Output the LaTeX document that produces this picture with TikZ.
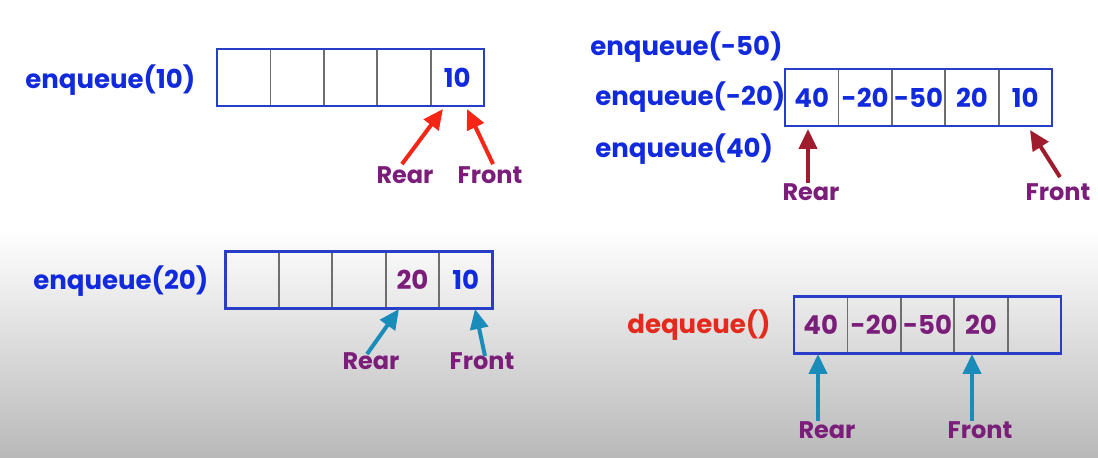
\documentclass[tikz,border=0pt]{standalone}
\usepackage{fontspec}
\setmainfont{Poppins}
\usepackage{xcolor}
\usepackage{tikz}
\usetikzlibrary{positioning,arrows.meta}

\definecolor{qblue}{RGB}{18,42,222}
\definecolor{boxblue}{RGB}{40,62,200}
\definecolor{divgray}{RGB}{110,110,110}
\definecolor{qpurple}{RGB}{122,30,122}
\definecolor{qred}{RGB}{228,42,28}
\definecolor{arrred}{RGB}{245,38,22}
\definecolor{arrmaroon}{RGB}{158,28,45}
\definecolor{arrteal}{RGB}{26,140,186}

\begin{document}
\begin{tikzpicture}[x=0.5pt, y=-0.5pt,
    qcell/.style={draw=divgray, line width=0.9pt, minimum width=26.7pt,
        minimum height=28.5pt, inner sep=0pt, outer sep=0pt,
        font=\fontsize{13}{15}\selectfont\bfseries},
    qlabel/.style={anchor=west, inner sep=0pt, text=qblue,
        font=\fontsize{13}{15}\selectfont\bfseries},
    ptrlabel/.style={inner sep=0pt, text=qpurple,
        font=\fontsize{12}{14}\selectfont\bfseries},
    ptr/.style={line width=2pt, -{Triangle[length=10pt, width=9pt]}},
    qbox/.style={draw=boxblue, line width=1.1pt}]

        %% ── Background ─────────────────────────────────────────────────
        \fill[white] (0,0) rectangle (1098,230);
        \shade[top color=white, bottom color=gray!55]
            (0,230) rectangle (1098,458);
        \useasboundingbox (0,0) rectangle (1098,458);

        %% ── enqueue(10) ────────────────────────────────────────────────
        \node[qlabel] (opA) at (25,80) {enqueue(10)};
        \node[qcell] (a1) at (243.7,77.5) {};
        \node[qcell, right=0pt of a1] (a2) {};
        \node[qcell, right=0pt of a2] (a3) {};
        \node[qcell, right=0pt of a3] (a4) {};
        \node[qcell, right=0pt of a4, text=qblue] (a5) {10};
        \draw[qbox] (a1.north west) rectangle (a5.south east);
        \node[ptrlabel] (rearA) at (405,175) {Rear};
        \node[ptrlabel] (frontA) at (490,175) {Front};
        \coordinate (tipRA) at (443,109);
        \coordinate (tipFA) at (467,109);
        \draw[ptr, arrred] ([xshift=-1.5pt, yshift=1pt]rearA.north) -- (tipRA);
        \draw[ptr, arrred] ([xshift=1.5pt, yshift=1pt]frontA.north) -- (tipFA);

        %% ── enqueue(-50), enqueue(-20), enqueue(40) ───────────────────
        \node[qlabel] (opB1) at (590,47) {enqueue(-50)};
        \node[qlabel] (opB2) at (595,97) {enqueue(-20)};
        \node[qlabel] (opB3) at (595,149) {enqueue(40)};
        \node[qcell, text=qblue] (b1) at (811.7,97.5) {40};
        \node[qcell, right=0pt of b1, text=qblue] (b2) {-20};
        \node[qcell, right=0pt of b2, text=qblue] (b3) {-50};
        \node[qcell, right=0pt of b3, text=qblue] (b4) {20};
        \node[qcell, right=0pt of b4, text=qblue] (b5) {10};
        \draw[qbox] (b1.north west) rectangle (b5.south east);
        \node[ptrlabel] (rearB) at (811,192) {Rear};
        \node[ptrlabel] (frontB) at (1058,192) {Front};
        \coordinate (tipRB) at (808,129);
        \coordinate (tipFB) at (1030,130);
        \draw[ptr, arrmaroon] (rearB.north -| tipRB) -- (tipRB);
        \draw[ptr, arrmaroon] ([xshift=1pt, yshift=3pt]frontB.north) -- (tipFB);

        %% ── enqueue(20) ────────────────────────────────────────────────
        \node[qlabel] (opC) at (33,281) {enqueue(20)};
        \node[qcell] (c1) at (252.2,280) {};
        \node[qcell, right=0pt of c1] (c2) {};
        \node[qcell, right=0pt of c2] (c3) {};
        \node[qcell, right=0pt of c3, text=qpurple] (c4) {20};
        \node[qcell, right=0pt of c4, text=qblue] (c5) {10};
        \draw[qbox] (c1.north west) rectangle (c5.south east);
        \node[ptrlabel] (rearC) at (371,361) {Rear};
        \node[ptrlabel] (frontC) at (482,361) {Front};
        \coordinate (tipRC) at (399,309);
        \coordinate (tipFC) at (475,309);
        \draw[ptr, arrteal] ([xshift=-2pt, yshift=-1pt]rearC.north) -- (tipRC);
        \draw[ptr, arrteal] ([xshift=1.5pt, yshift=-2pt]frontC.north) -- (tipFC);

        %% ── dequeue() ──────────────────────────────────────────────────
        \node[qlabel, text=qred] (opD) at (627,325) {dequeue()};
        \node[qcell, text=qpurple] (d1) at (820.7,325) {40};
        \node[qcell, right=0pt of d1, text=qpurple] (d2) {-20};
        \node[qcell, right=0pt of d2, text=qpurple] (d3) {-50};
        \node[qcell, right=0pt of d3, text=qpurple] (d4) {20};
        \node[qcell, right=0pt of d4] (d5) {};
        \draw[qbox] (d1.north west) rectangle (d5.south east);
        \node[ptrlabel] (rearD) at (827,430) {Rear};
        \node[ptrlabel] (frontD) at (980,430) {Front};
        \coordinate (tipRD) at (818,354);
        \coordinate (tipFD) at (972,354);
        \draw[ptr, arrteal] (rearD.north -| tipRD) -- (tipRD);
        \draw[ptr, arrteal] (frontD.north -| tipFD) -- (tipFD);

    \end{tikzpicture}
\end{document}
